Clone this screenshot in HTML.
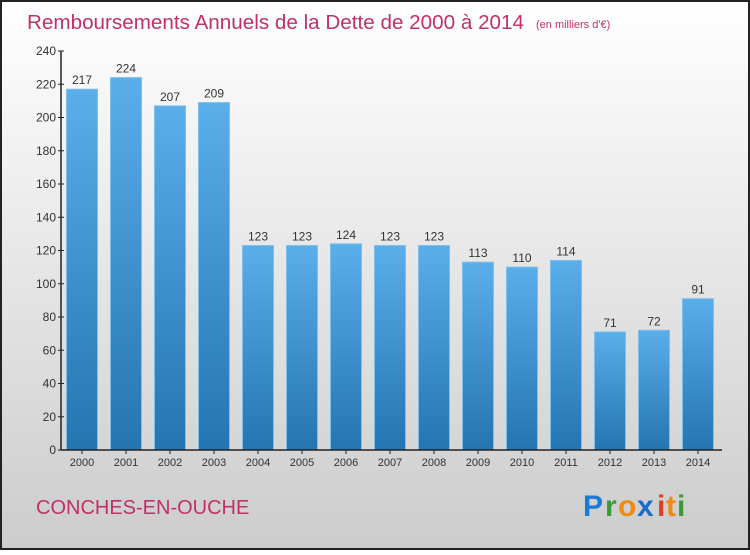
<!DOCTYPE html>
<html><head><meta charset="utf-8"><style>
body{margin:0;}
#c{width:750px;height:550px;position:relative;font-family:"Liberation Sans",sans-serif;}
</style></head><body>
<div id="c">
<svg width="750" height="550" xmlns="http://www.w3.org/2000/svg" id="svg">
<defs>
<linearGradient id="bg" x1="0" y1="0" x2="0" y2="1"><stop offset="0" stop-color="#ffffff"/><stop offset="1" stop-color="#cccccc"/></linearGradient>
<linearGradient id="bar" x1="0" y1="0" x2="0" y2="1"><stop offset="0" stop-color="#5aaeea"/><stop offset="1" stop-color="#2475b0"/></linearGradient>
</defs>
<rect x="1" y="1" width="748" height="548" fill="url(#bg)" stroke="#222" stroke-width="2"/>
<text x="27" y="29" font-size="20" fill="#c0306a" textLength="497" lengthAdjust="spacingAndGlyphs">Remboursements Annuels de la Dette de 2000 à 2014</text>
<text x="536" y="28" font-size="11" fill="#c0306a">(en milliers d'€)</text>
<g id="plot"></g>
<text x="36" y="514" font-size="20" fill="#c0306a">CONCHES-EN-OUCHE</text>
<g font-size="30" font-weight="bold">
<text x="583" y="516" fill="#1a7ad4">P</text><text x="605" y="516" fill="#3a9a3a">r</text><text x="618" y="516" fill="#f08a10">o</text><text x="637" y="516" fill="#1a6ad0">x</text><text x="657" y="516" fill="#e04020">i</text><text x="666" y="516" fill="#f08a10">t</text><text x="677" y="516" fill="#3a9a3a">i</text>
</g>
</svg>
</div>
<script>
const years=["2000","2001","2002","2003","2004","2005","2006","2007","2008","2009","2010","2011","2012","2013","2014"];
const values=[217,224,207,209,123,123,124,123,123,113,110,114,71,72,91];
const yTicks=[0,20,40,60,80,100,120,140,160,180,200,220,240];
const ns="http://www.w3.org/2000/svg";
const g=document.getElementById('plot');
const y0=450,y1=51,vmax=240,x0=61,x1=722;
const ys=v=>y0-(v/vmax)*(y0-y1);
const xc=i=>82+i*(698-82)/(years.length-1);
function mk(t,a){const e=document.createElementNS(ns,t);for(const k in a)e.setAttribute(k,a[k]);g.appendChild(e);return e;}
values.forEach((v,i)=>{
 const r=mk('rect',{x:xc(i)-15.5,y:ys(v),width:31,height:y0-ys(v),fill:'url(#bar)',stroke:'#7cc0ee','stroke-width':1});
 
 
 const t=mk('text',{x:xc(i),y:ys(v)-5,'text-anchor':'middle','font-size':12,fill:'#333'});t.textContent=v;
 
 
 const xl=mk('text',{x:xc(i),y:466,'text-anchor':'middle','font-size':11,fill:'#333'});xl.textContent=years[i];
 
 
 mk('line',{x1:xc(i),x2:xc(i),y1:y0,y2:y0+4,stroke:'#222'});
});
yTicks.forEach(v=>{
 mk('line',{x1:x0-3,x2:x0+3,y1:ys(v),y2:ys(v),stroke:'#222'});
 const t=mk('text',{x:x0-5,y:ys(v)+4,'text-anchor':'end','font-size':12,fill:'#333'});t.textContent=v;
 
 
});
const ya=mk('line',{x1:x0,x2:x0,y1:y1,y2:y0,stroke:'#222','stroke-width':1.5});


const xa=mk('line',{x1:x0,x2:x1,y1:y0,y2:y0,stroke:'#222','stroke-width':1.5});


</script>
</body></html>
